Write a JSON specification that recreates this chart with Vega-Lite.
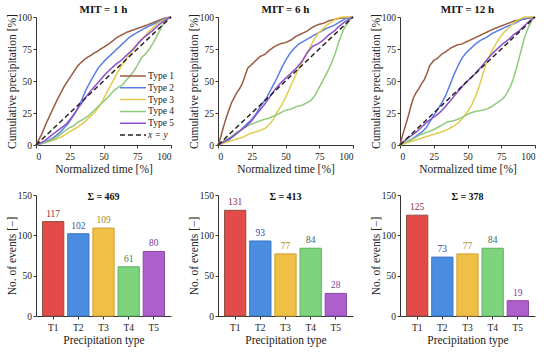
{
"$schema":"https://vega.github.io/schema/vega-lite/v6.json",
"background":"white",
"padding":{"left":6,"top":4,"right":4,"bottom":2},
"config":{
 "view":{"stroke":null},
 "font":"Liberation Serif",
 "axis":{"grid":false,"domainColor":"#333","tickColor":"#333","labelFont":"Liberation Serif","titleFont":"Liberation Serif","labelFontSize":9.5,"titleFontSize":11.5,"titleFontWeight":"normal","labelColor":"#222","titleColor":"#222","tickSize":3},
 "axisY":{"labelPadding":1.5,"titlePadding":0},
 "axisX":{"labelPadding":3,"titlePadding":3},
 "title":{"font":"Liberation Serif","fontSize":11,"fontWeight":"bold","offset":-3,"color":"#111"}
},
"datasets":{
"mit1":[
{"t":"Type 1","x":0,"y":0},{"t":"Type 1","x":4,"y":8},{"t":"Type 1","x":8,"y":18},{"t":"Type 1","x":12,"y":27},{"t":"Type 1","x":16,"y":36},{"t":"Type 1","x":21,"y":46},{"t":"Type 1","x":26,"y":54},{"t":"Type 1","x":31,"y":62},{"t":"Type 1","x":36,"y":67},{"t":"Type 1","x":42,"y":71},{"t":"Type 1","x":48,"y":75},{"t":"Type 1","x":54,"y":79},{"t":"Type 1","x":60,"y":84},{"t":"Type 1","x":67,"y":88},{"t":"Type 1","x":75,"y":91},{"t":"Type 1","x":83,"y":94},{"t":"Type 1","x":90,"y":97},{"t":"Type 1","x":95,"y":99},{"t":"Type 1","x":100,"y":100},
{"t":"Type 2","x":0,"y":0},{"t":"Type 2","x":6,"y":2},{"t":"Type 2","x":12,"y":5},{"t":"Type 2","x":18,"y":10},{"t":"Type 2","x":24,"y":17},{"t":"Type 2","x":29,"y":25},{"t":"Type 2","x":33,"y":33},{"t":"Type 2","x":37,"y":43},{"t":"Type 2","x":41,"y":51},{"t":"Type 2","x":46,"y":60},{"t":"Type 2","x":51,"y":66},{"t":"Type 2","x":57,"y":72},{"t":"Type 2","x":63,"y":78},{"t":"Type 2","x":69,"y":84},{"t":"Type 2","x":75,"y":88},{"t":"Type 2","x":82,"y":92},{"t":"Type 2","x":90,"y":96},{"t":"Type 2","x":95,"y":98.5},{"t":"Type 2","x":100,"y":100},
{"t":"Type 3","x":0,"y":0},{"t":"Type 3","x":7,"y":2},{"t":"Type 3","x":14,"y":4},{"t":"Type 3","x":20,"y":7},{"t":"Type 3","x":26,"y":11},{"t":"Type 3","x":31,"y":14},{"t":"Type 3","x":36,"y":18},{"t":"Type 3","x":40,"y":22},{"t":"Type 3","x":44,"y":26},{"t":"Type 3","x":48,"y":32},{"t":"Type 3","x":51,"y":38},{"t":"Type 3","x":54,"y":44},{"t":"Type 3","x":57,"y":50},{"t":"Type 3","x":60,"y":56},{"t":"Type 3","x":64,"y":63},{"t":"Type 3","x":68,"y":69},{"t":"Type 3","x":72,"y":74},{"t":"Type 3","x":78,"y":82},{"t":"Type 3","x":84,"y":89},{"t":"Type 3","x":90,"y":95},{"t":"Type 3","x":95,"y":98},{"t":"Type 3","x":100,"y":100},
{"t":"Type 4","x":0,"y":0},{"t":"Type 4","x":7,"y":2},{"t":"Type 4","x":14,"y":5},{"t":"Type 4","x":19,"y":9},{"t":"Type 4","x":24,"y":13},{"t":"Type 4","x":28,"y":15},{"t":"Type 4","x":31,"y":18},{"t":"Type 4","x":35,"y":20},{"t":"Type 4","x":39,"y":23},{"t":"Type 4","x":43,"y":27},{"t":"Type 4","x":46,"y":30},{"t":"Type 4","x":50,"y":34},{"t":"Type 4","x":54,"y":38},{"t":"Type 4","x":58,"y":43},{"t":"Type 4","x":61,"y":45},{"t":"Type 4","x":64,"y":47},{"t":"Type 4","x":68,"y":52},{"t":"Type 4","x":72,"y":57},{"t":"Type 4","x":75,"y":62},{"t":"Type 4","x":78,"y":68},{"t":"Type 4","x":81,"y":71},{"t":"Type 4","x":84,"y":75},{"t":"Type 4","x":87,"y":80},{"t":"Type 4","x":90,"y":86},{"t":"Type 4","x":93,"y":92},{"t":"Type 4","x":96,"y":98},{"t":"Type 4","x":100,"y":100},
{"t":"Type 5","x":0,"y":0},{"t":"Type 5","x":6,"y":3},{"t":"Type 5","x":12,"y":8},{"t":"Type 5","x":17,"y":12},{"t":"Type 5","x":22,"y":16},{"t":"Type 5","x":26,"y":21},{"t":"Type 5","x":30,"y":27},{"t":"Type 5","x":34,"y":33},{"t":"Type 5","x":38,"y":39},{"t":"Type 5","x":42,"y":44},{"t":"Type 5","x":47,"y":50},{"t":"Type 5","x":51,"y":55},{"t":"Type 5","x":55,"y":59},{"t":"Type 5","x":59,"y":63},{"t":"Type 5","x":63,"y":66},{"t":"Type 5","x":67,"y":70},{"t":"Type 5","x":72,"y":75},{"t":"Type 5","x":76,"y":80},{"t":"Type 5","x":81,"y":85},{"t":"Type 5","x":86,"y":89},{"t":"Type 5","x":91,"y":94},{"t":"Type 5","x":95,"y":97},{"t":"Type 5","x":100,"y":100},
{"t":"x = y","x":0,"y":0},{"t":"x = y","x":100,"y":100}
],
"mit6":[
{"t":"Type 1","x":0,"y":0},{"t":"Type 1","x":2,"y":6},{"t":"Type 1","x":4,"y":14},{"t":"Type 1","x":6,"y":21},{"t":"Type 1","x":8,"y":27},{"t":"Type 1","x":10,"y":33},{"t":"Type 1","x":12,"y":37},{"t":"Type 1","x":14,"y":41},{"t":"Type 1","x":16,"y":44},{"t":"Type 1","x":18,"y":48},{"t":"Type 1","x":20,"y":54},{"t":"Type 1","x":22,"y":60},{"t":"Type 1","x":25,"y":63},{"t":"Type 1","x":28,"y":66},{"t":"Type 1","x":31,"y":69},{"t":"Type 1","x":35,"y":71},{"t":"Type 1","x":38,"y":74},{"t":"Type 1","x":42,"y":77},{"t":"Type 1","x":46,"y":79},{"t":"Type 1","x":50,"y":80},{"t":"Type 1","x":54,"y":82},{"t":"Type 1","x":58,"y":85},{"t":"Type 1","x":62,"y":87},{"t":"Type 1","x":66,"y":89},{"t":"Type 1","x":70,"y":92},{"t":"Type 1","x":74,"y":94},{"t":"Type 1","x":78,"y":95},{"t":"Type 1","x":82,"y":97},{"t":"Type 1","x":86,"y":98},{"t":"Type 1","x":90,"y":99},{"t":"Type 1","x":100,"y":100},
{"t":"Type 2","x":0,"y":0},{"t":"Type 2","x":7,"y":3},{"t":"Type 2","x":14,"y":9},{"t":"Type 2","x":19,"y":14},{"t":"Type 2","x":24,"y":19},{"t":"Type 2","x":28,"y":24},{"t":"Type 2","x":32,"y":31},{"t":"Type 2","x":36,"y":37},{"t":"Type 2","x":40,"y":45},{"t":"Type 2","x":44,"y":53},{"t":"Type 2","x":47,"y":60},{"t":"Type 2","x":50,"y":66},{"t":"Type 2","x":53,"y":71},{"t":"Type 2","x":56,"y":75},{"t":"Type 2","x":60,"y":79},{"t":"Type 2","x":65,"y":82},{"t":"Type 2","x":70,"y":85},{"t":"Type 2","x":75,"y":88},{"t":"Type 2","x":80,"y":91},{"t":"Type 2","x":85,"y":93},{"t":"Type 2","x":90,"y":96},{"t":"Type 2","x":95,"y":99},{"t":"Type 2","x":100,"y":100},
{"t":"Type 3","x":0,"y":0},{"t":"Type 3","x":6,"y":2},{"t":"Type 3","x":12,"y":4},{"t":"Type 3","x":18,"y":6},{"t":"Type 3","x":24,"y":9},{"t":"Type 3","x":30,"y":11},{"t":"Type 3","x":35,"y":13},{"t":"Type 3","x":38,"y":16},{"t":"Type 3","x":41,"y":20},{"t":"Type 3","x":44,"y":26},{"t":"Type 3","x":47,"y":31},{"t":"Type 3","x":50,"y":37},{"t":"Type 3","x":53,"y":44},{"t":"Type 3","x":56,"y":51},{"t":"Type 3","x":59,"y":58},{"t":"Type 3","x":62,"y":64},{"t":"Type 3","x":65,"y":70},{"t":"Type 3","x":68,"y":76},{"t":"Type 3","x":71,"y":82},{"t":"Type 3","x":74,"y":87},{"t":"Type 3","x":77,"y":90},{"t":"Type 3","x":80,"y":93},{"t":"Type 3","x":84,"y":96},{"t":"Type 3","x":88,"y":99},{"t":"Type 3","x":92,"y":100},{"t":"Type 3","x":100,"y":100},
{"t":"Type 4","x":0,"y":0},{"t":"Type 4","x":4,"y":3},{"t":"Type 4","x":9,"y":6},{"t":"Type 4","x":14,"y":10},{"t":"Type 4","x":19,"y":13},{"t":"Type 4","x":24,"y":16},{"t":"Type 4","x":29,"y":18},{"t":"Type 4","x":34,"y":20},{"t":"Type 4","x":38,"y":21},{"t":"Type 4","x":42,"y":23},{"t":"Type 4","x":46,"y":25},{"t":"Type 4","x":50,"y":27},{"t":"Type 4","x":54,"y":28},{"t":"Type 4","x":58,"y":30},{"t":"Type 4","x":62,"y":31},{"t":"Type 4","x":66,"y":33},{"t":"Type 4","x":69,"y":35},{"t":"Type 4","x":72,"y":39},{"t":"Type 4","x":75,"y":45},{"t":"Type 4","x":78,"y":51},{"t":"Type 4","x":81,"y":57},{"t":"Type 4","x":84,"y":64},{"t":"Type 4","x":87,"y":72},{"t":"Type 4","x":89,"y":79},{"t":"Type 4","x":91,"y":85},{"t":"Type 4","x":93,"y":90},{"t":"Type 4","x":95,"y":94},{"t":"Type 4","x":98,"y":98},{"t":"Type 4","x":100,"y":100},
{"t":"Type 5","x":0,"y":0},{"t":"Type 5","x":5,"y":3},{"t":"Type 5","x":10,"y":6},{"t":"Type 5","x":15,"y":10},{"t":"Type 5","x":20,"y":14},{"t":"Type 5","x":25,"y":19},{"t":"Type 5","x":30,"y":26},{"t":"Type 5","x":34,"y":31},{"t":"Type 5","x":38,"y":37},{"t":"Type 5","x":42,"y":43},{"t":"Type 5","x":46,"y":48},{"t":"Type 5","x":50,"y":52},{"t":"Type 5","x":54,"y":56},{"t":"Type 5","x":58,"y":60},{"t":"Type 5","x":62,"y":65},{"t":"Type 5","x":66,"y":72},{"t":"Type 5","x":70,"y":77},{"t":"Type 5","x":74,"y":79},{"t":"Type 5","x":78,"y":82},{"t":"Type 5","x":82,"y":86},{"t":"Type 5","x":86,"y":89},{"t":"Type 5","x":90,"y":93},{"t":"Type 5","x":95,"y":97},{"t":"Type 5","x":100,"y":100},
{"t":"x = y","x":0,"y":0},{"t":"x = y","x":100,"y":100}
],
"mit12":[
{"t":"Type 1","x":0,"y":0},{"t":"Type 1","x":2,"y":8},{"t":"Type 1","x":4,"y":15},{"t":"Type 1","x":6,"y":22},{"t":"Type 1","x":8,"y":30},{"t":"Type 1","x":10,"y":37},{"t":"Type 1","x":12,"y":41},{"t":"Type 1","x":14,"y":44},{"t":"Type 1","x":16,"y":48},{"t":"Type 1","x":18,"y":51},{"t":"Type 1","x":20,"y":56},{"t":"Type 1","x":22,"y":62},{"t":"Type 1","x":25,"y":66},{"t":"Type 1","x":28,"y":68},{"t":"Type 1","x":31,"y":71},{"t":"Type 1","x":34,"y":73},{"t":"Type 1","x":38,"y":76},{"t":"Type 1","x":42,"y":78},{"t":"Type 1","x":46,"y":79},{"t":"Type 1","x":50,"y":81},{"t":"Type 1","x":54,"y":83},{"t":"Type 1","x":58,"y":85},{"t":"Type 1","x":62,"y":87},{"t":"Type 1","x":66,"y":89},{"t":"Type 1","x":70,"y":91},{"t":"Type 1","x":75,"y":93},{"t":"Type 1","x":80,"y":95},{"t":"Type 1","x":85,"y":97},{"t":"Type 1","x":90,"y":98},{"t":"Type 1","x":95,"y":99},{"t":"Type 1","x":100,"y":100},
{"t":"Type 2","x":0,"y":0},{"t":"Type 2","x":4,"y":2},{"t":"Type 2","x":8,"y":4},{"t":"Type 2","x":12,"y":7},{"t":"Type 2","x":16,"y":10},{"t":"Type 2","x":19,"y":13},{"t":"Type 2","x":22,"y":18},{"t":"Type 2","x":25,"y":23},{"t":"Type 2","x":28,"y":28},{"t":"Type 2","x":31,"y":33},{"t":"Type 2","x":34,"y":39},{"t":"Type 2","x":37,"y":47},{"t":"Type 2","x":40,"y":55},{"t":"Type 2","x":43,"y":62},{"t":"Type 2","x":46,"y":68},{"t":"Type 2","x":49,"y":72},{"t":"Type 2","x":52,"y":75},{"t":"Type 2","x":56,"y":79},{"t":"Type 2","x":60,"y":82},{"t":"Type 2","x":64,"y":84},{"t":"Type 2","x":68,"y":87},{"t":"Type 2","x":72,"y":89},{"t":"Type 2","x":76,"y":91},{"t":"Type 2","x":80,"y":93},{"t":"Type 2","x":85,"y":95},{"t":"Type 2","x":90,"y":98},{"t":"Type 2","x":95,"y":99.5},{"t":"Type 2","x":100,"y":100},
{"t":"Type 3","x":0,"y":0},{"t":"Type 3","x":6,"y":2},{"t":"Type 3","x":12,"y":4},{"t":"Type 3","x":18,"y":6},{"t":"Type 3","x":24,"y":8},{"t":"Type 3","x":30,"y":10},{"t":"Type 3","x":35,"y":12},{"t":"Type 3","x":40,"y":15},{"t":"Type 3","x":44,"y":18},{"t":"Type 3","x":47,"y":22},{"t":"Type 3","x":50,"y":26},{"t":"Type 3","x":53,"y":31},{"t":"Type 3","x":56,"y":38},{"t":"Type 3","x":59,"y":47},{"t":"Type 3","x":61,"y":54},{"t":"Type 3","x":63,"y":61},{"t":"Type 3","x":65,"y":67},{"t":"Type 3","x":68,"y":73},{"t":"Type 3","x":71,"y":79},{"t":"Type 3","x":74,"y":84},{"t":"Type 3","x":77,"y":88},{"t":"Type 3","x":80,"y":91},{"t":"Type 3","x":84,"y":95},{"t":"Type 3","x":88,"y":98},{"t":"Type 3","x":92,"y":100},{"t":"Type 3","x":100,"y":100},
{"t":"Type 4","x":0,"y":0},{"t":"Type 4","x":5,"y":3},{"t":"Type 4","x":10,"y":5},{"t":"Type 4","x":15,"y":8},{"t":"Type 4","x":20,"y":10},{"t":"Type 4","x":25,"y":12},{"t":"Type 4","x":30,"y":15},{"t":"Type 4","x":35,"y":18},{"t":"Type 4","x":40,"y":19},{"t":"Type 4","x":45,"y":21},{"t":"Type 4","x":50,"y":24},{"t":"Type 4","x":55,"y":26},{"t":"Type 4","x":60,"y":27},{"t":"Type 4","x":64,"y":28},{"t":"Type 4","x":68,"y":30},{"t":"Type 4","x":72,"y":33},{"t":"Type 4","x":76,"y":36},{"t":"Type 4","x":79,"y":40},{"t":"Type 4","x":82,"y":46},{"t":"Type 4","x":84,"y":52},{"t":"Type 4","x":86,"y":59},{"t":"Type 4","x":88,"y":67},{"t":"Type 4","x":90,"y":75},{"t":"Type 4","x":92,"y":83},{"t":"Type 4","x":94,"y":89},{"t":"Type 4","x":96,"y":94},{"t":"Type 4","x":98,"y":98},{"t":"Type 4","x":100,"y":100},
{"t":"Type 5","x":0,"y":0},{"t":"Type 5","x":4,"y":4},{"t":"Type 5","x":8,"y":7},{"t":"Type 5","x":12,"y":10},{"t":"Type 5","x":16,"y":14},{"t":"Type 5","x":20,"y":18},{"t":"Type 5","x":24,"y":21},{"t":"Type 5","x":28,"y":24},{"t":"Type 5","x":32,"y":28},{"t":"Type 5","x":36,"y":33},{"t":"Type 5","x":40,"y":38},{"t":"Type 5","x":44,"y":43},{"t":"Type 5","x":48,"y":48},{"t":"Type 5","x":52,"y":52},{"t":"Type 5","x":56,"y":56},{"t":"Type 5","x":60,"y":61},{"t":"Type 5","x":64,"y":66},{"t":"Type 5","x":68,"y":71},{"t":"Type 5","x":72,"y":75},{"t":"Type 5","x":76,"y":79},{"t":"Type 5","x":80,"y":82},{"t":"Type 5","x":84,"y":86},{"t":"Type 5","x":88,"y":89},{"t":"Type 5","x":92,"y":93},{"t":"Type 5","x":96,"y":97},{"t":"Type 5","x":100,"y":100},
{"t":"x = y","x":0,"y":0},{"t":"x = y","x":100,"y":100}
]
},
"columns":3,
"spacing":{"row":50,"column":47},
"bounds":"flush",
"resolve":{"scale":{"color":"independent","fill":"independent","stroke":"independent","strokeDash":"independent"},"legend":{"color":"independent","fill":"independent","stroke":"independent","strokeDash":"independent"}},
"concat":[
{
 "title":"MIT = 1 h","width":135,"height":128,"data":{"name":"mit1"},
 "mark":{"type":"line","strokeWidth":1.5},
 "encoding":{
  "x":{"field":"x","type":"quantitative","scale":{"domain":[0,100],"nice":false},"axis":{"values":[0,25,50,75,100],"title":"Normalized time [%]"}},
  "y":{"field":"y","type":"quantitative","scale":{"domain":[0,100],"nice":false},"axis":{"values":[0,25,50,75,100],"title":"Cumulative precipitation [%]"}},
  "color":{"field":"t","type":"nominal","scale":{"domain":["Type 1","Type 2","Type 3","Type 4","Type 5","x = y"],"range":["#9a5b3f","#5a7ee6","#e3cb4e","#8fc97a","#8f4fc9","#222222"]},
   "legend":{"title":null,"orient":"none","legendX":91,"legendY":53,"symbolType":"M-2.6,0L2.6,0","symbolSize":100,"symbolStrokeWidth":1.5,"labelOffset":9,"labelFont":"Liberation Serif","labelFontSize":9.5,"labelColor":"#222","rowPadding":0.8,"padding":0,"encode":{"labels":{"update":{"fontStyle":{"signal":"datum.label === 'x = y' ? 'italic' : 'normal'"}}}}}},
  "strokeDash":{"field":"t","type":"nominal","scale":{"domain":["Type 1","Type 2","Type 3","Type 4","Type 5","x = y"],"range":[[1,0],[1,0],[1,0],[1,0],[1,0],[5,3]]},
   "legend":{"title":null,"orient":"none","legendX":91,"legendY":53,"symbolType":"M-2.6,0L2.6,0","symbolSize":100,"symbolStrokeWidth":1.5,"labelOffset":9,"labelFont":"Liberation Serif","labelFontSize":9.5,"labelColor":"#222","rowPadding":0.8,"padding":0,"encode":{"labels":{"update":{"fontStyle":{"signal":"datum.label === 'x = y' ? 'italic' : 'normal'"}}}}}}
 }
},
{
 "title":"MIT = 6 h","width":135,"height":128,"data":{"name":"mit6"},
 "mark":{"type":"line","strokeWidth":1.5},
 "encoding":{
  "x":{"field":"x","type":"quantitative","scale":{"domain":[0,100],"nice":false},"axis":{"values":[0,25,50,75,100],"title":"Normalized time [%]"}},
  "y":{"field":"y","type":"quantitative","scale":{"domain":[0,100],"nice":false},"axis":{"values":[0,25,50,75,100],"title":"Cumulative precipitation [%]"}},
  "color":{"field":"t","type":"nominal","scale":{"domain":["Type 1","Type 2","Type 3","Type 4","Type 5","x = y"],"range":["#9a5b3f","#5a7ee6","#e3cb4e","#8fc97a","#8f4fc9","#222222"]},"legend":null},
  "strokeDash":{"field":"t","type":"nominal","scale":{"domain":["Type 1","Type 2","Type 3","Type 4","Type 5","x = y"],"range":[[1,0],[1,0],[1,0],[1,0],[1,0],[5,3]]},"legend":null}
 }
},
{
 "title":"MIT = 12 h","width":135,"height":128,"data":{"name":"mit12"},
 "mark":{"type":"line","strokeWidth":1.5},
 "encoding":{
  "x":{"field":"x","type":"quantitative","scale":{"domain":[0,100],"nice":false},"axis":{"values":[0,25,50,75,100],"title":"Normalized time [%]"}},
  "y":{"field":"y","type":"quantitative","scale":{"domain":[0,100],"nice":false},"axis":{"values":[0,25,50,75,100],"title":"Cumulative precipitation [%]"}},
  "color":{"field":"t","type":"nominal","scale":{"domain":["Type 1","Type 2","Type 3","Type 4","Type 5","x = y"],"range":["#9a5b3f","#5a7ee6","#e3cb4e","#8fc97a","#8f4fc9","#222222"]},"legend":null},
  "strokeDash":{"field":"t","type":"nominal","scale":{"domain":["Type 1","Type 2","Type 3","Type 4","Type 5","x = y"],"range":[[1,0],[1,0],[1,0],[1,0],[1,0],[5,3]]},"legend":null}
 }
},
{
 "width":135,"height":121,
 "data":{"values":[{"type":"T1","n":117},{"type":"T2","n":102},{"type":"T3","n":109},{"type":"T4","n":61},{"type":"T5","n":80}]},
 "resolve":{"scale":{"color":"independent","fill":"independent","stroke":"independent"}},
 "layer":[
  {"mark":{"type":"bar","strokeWidth":1},
   "encoding":{
    "x":{"field":"type","type":"nominal","sort":null,"scale":{"paddingInner":0.155,"paddingOuter":0.26},"axis":{"labelAngle":0,"title":"Precipitation type"}},
    "y":{"field":"n","type":"quantitative","scale":{"domain":[0,150],"nice":false},"axis":{"values":[0,50,100,150],"title":"No. of events [−]"}},
    "fill":{"field":"type","type":"nominal","scale":{"domain":["T1","T2","T3","T4","T5"],"range":["#e34b4b","#4a8de0","#f0bf45","#7dd47d","#ad5fcc"]},"legend":null},
    "stroke":{"field":"type","type":"nominal","scale":{"domain":["T1","T2","T3","T4","T5"],"range":["#8a5040","#3c74c0","#d0a030","#60b060","#8a48a8"]},"legend":null}
   }},
  {"mark":{"type":"text","dy":-8,"fontSize":9.5,"font":"Liberation Serif"},
   "encoding":{
    "x":{"field":"type","type":"nominal","sort":null},
    "y":{"field":"n","type":"quantitative"},
    "text":{"field":"n","type":"quantitative"},
    "color":{"field":"type","type":"nominal","scale":{"domain":["T1","T2","T3","T4","T5"],"range":["#8b3030","#2f55a0","#a88a30","#4a7a4a","#7a40a0"]},"legend":null}
   }},
  {"data":{"values":[{"label":"Σ = 469"}]},
   "mark":{"type":"text","fontSize":10,"fontWeight":"bold","font":"Liberation Serif","color":"#111"},
   "encoding":{"x":{"datum":"T3","type":"nominal"},"y":{"datum":147,"type":"quantitative"},"text":{"field":"label","type":"nominal"}}}
 ]
},
{
 "width":135,"height":121,
 "data":{"values":[{"type":"T1","n":131},{"type":"T2","n":93},{"type":"T3","n":77},{"type":"T4","n":84},{"type":"T5","n":28}]},
 "resolve":{"scale":{"color":"independent","fill":"independent","stroke":"independent"}},
 "layer":[
  {"mark":{"type":"bar","strokeWidth":1},
   "encoding":{
    "x":{"field":"type","type":"nominal","sort":null,"scale":{"paddingInner":0.155,"paddingOuter":0.26},"axis":{"labelAngle":0,"title":"Precipitation type"}},
    "y":{"field":"n","type":"quantitative","scale":{"domain":[0,150],"nice":false},"axis":{"values":[0,50,100,150],"title":"No. of events [−]"}},
    "fill":{"field":"type","type":"nominal","scale":{"domain":["T1","T2","T3","T4","T5"],"range":["#e34b4b","#4a8de0","#f0bf45","#7dd47d","#ad5fcc"]},"legend":null},
    "stroke":{"field":"type","type":"nominal","scale":{"domain":["T1","T2","T3","T4","T5"],"range":["#8a5040","#3c74c0","#d0a030","#60b060","#8a48a8"]},"legend":null}
   }},
  {"mark":{"type":"text","dy":-8,"fontSize":9.5,"font":"Liberation Serif"},
   "encoding":{
    "x":{"field":"type","type":"nominal","sort":null},
    "y":{"field":"n","type":"quantitative"},
    "text":{"field":"n","type":"quantitative"},
    "color":{"field":"type","type":"nominal","scale":{"domain":["T1","T2","T3","T4","T5"],"range":["#8b3030","#3a45a8","#a88a30","#4a6a4a","#7a40a0"]},"legend":null}
   }},
  {"data":{"values":[{"label":"Σ = 413"}]},
   "mark":{"type":"text","fontSize":10,"fontWeight":"bold","font":"Liberation Serif","color":"#111"},
   "encoding":{"x":{"datum":"T3","type":"nominal"},"y":{"datum":147,"type":"quantitative"},"text":{"field":"label","type":"nominal"}}}
 ]
},
{
 "width":135,"height":121,
 "data":{"values":[{"type":"T1","n":125},{"type":"T2","n":73},{"type":"T3","n":77},{"type":"T4","n":84},{"type":"T5","n":19}]},
 "resolve":{"scale":{"color":"independent","fill":"independent","stroke":"independent"}},
 "layer":[
  {"mark":{"type":"bar","strokeWidth":1},
   "encoding":{
    "x":{"field":"type","type":"nominal","sort":null,"scale":{"paddingInner":0.155,"paddingOuter":0.26},"axis":{"labelAngle":0,"title":"Precipitation type"}},
    "y":{"field":"n","type":"quantitative","scale":{"domain":[0,150],"nice":false},"axis":{"values":[0,50,100,150],"title":"No. of events [−]"}},
    "fill":{"field":"type","type":"nominal","scale":{"domain":["T1","T2","T3","T4","T5"],"range":["#e34b4b","#4a8de0","#f0bf45","#7dd47d","#ad5fcc"]},"legend":null},
    "stroke":{"field":"type","type":"nominal","scale":{"domain":["T1","T2","T3","T4","T5"],"range":["#8a5040","#3c74c0","#d0a030","#60b060","#8a48a8"]},"legend":null}
   }},
  {"mark":{"type":"text","dy":-8,"fontSize":9.5,"font":"Liberation Serif"},
   "encoding":{
    "x":{"field":"type","type":"nominal","sort":null},
    "y":{"field":"n","type":"quantitative"},
    "text":{"field":"n","type":"quantitative"},
    "color":{"field":"type","type":"nominal","scale":{"domain":["T1","T2","T3","T4","T5"],"range":["#8b3030","#3a45a8","#a88a30","#4a6a4a","#7a40a0"]},"legend":null}
   }},
  {"data":{"values":[{"label":"Σ = 378"}]},
   "mark":{"type":"text","fontSize":10,"fontWeight":"bold","font":"Liberation Serif","color":"#111"},
   "encoding":{"x":{"datum":"T3","type":"nominal"},"y":{"datum":147,"type":"quantitative"},"text":{"field":"label","type":"nominal"}}}
 ]
}
]
}
